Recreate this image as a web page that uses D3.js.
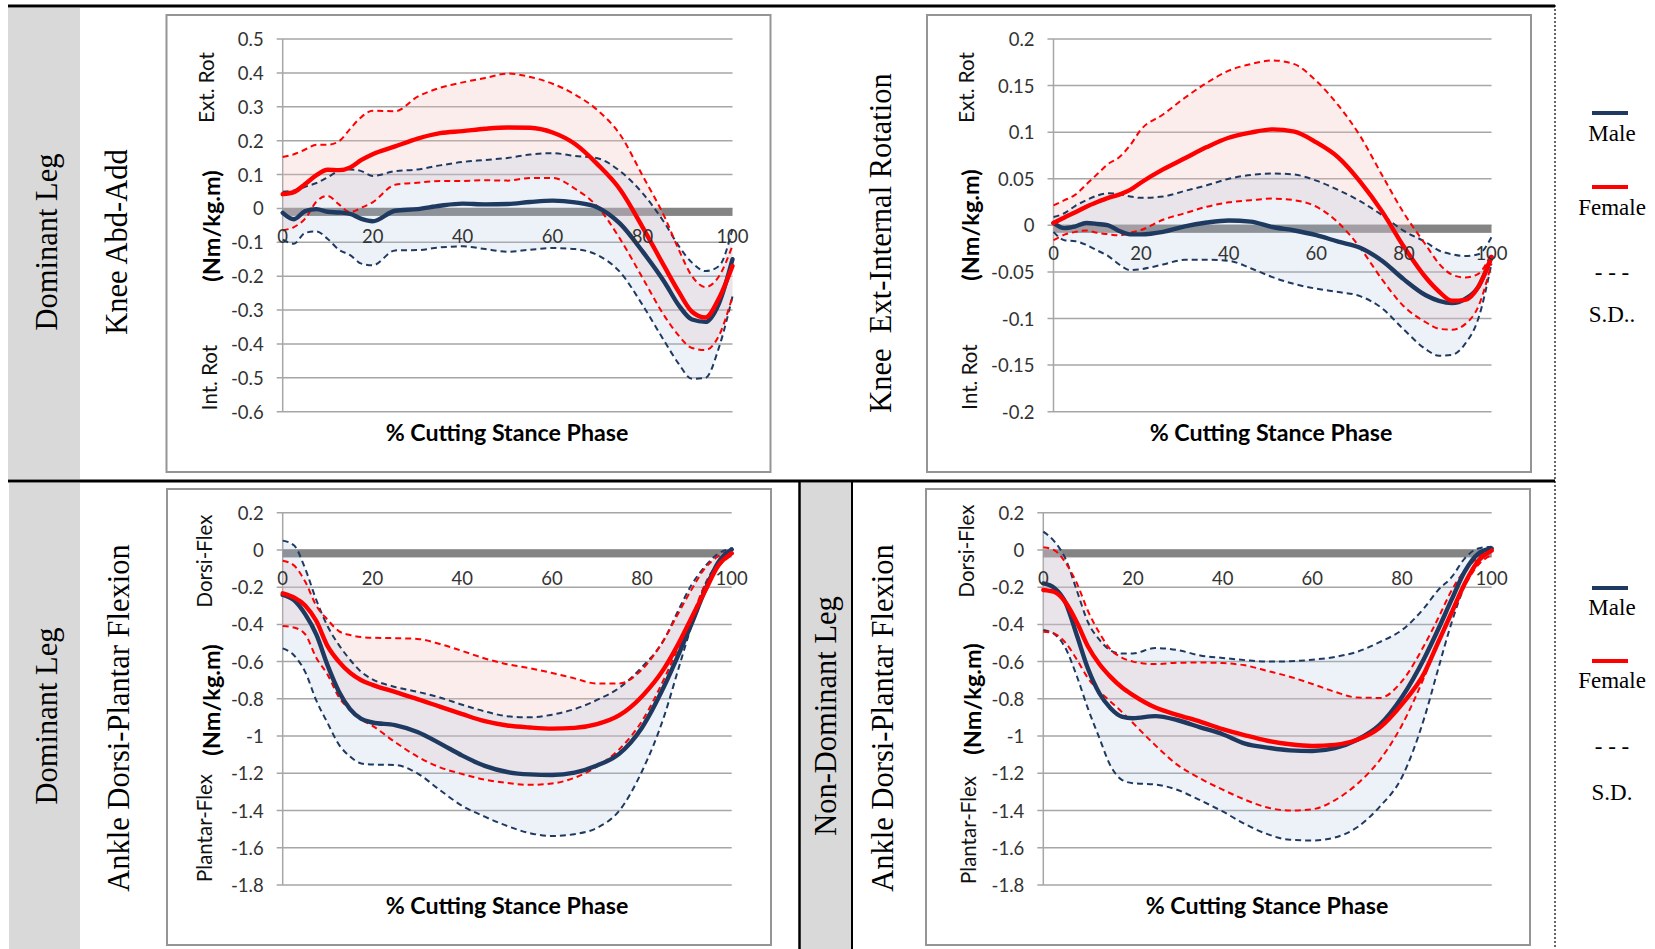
<!DOCTYPE html>
<html><head><meta charset="utf-8">
<script src="https://cdn.jsdelivr.net/npm/d3@7"></script>
<style>
html,body{margin:0;padding:0;background:#fff;}
svg{display:block;}
</style></head><body>
<svg id="c" width="1655" height="949"></svg>
<script>
// ---------- DATA ----------
const pct = [0,2.5,5,7.5,10,12.5,15,17.5,20,25,30,35,40,45,50,55,60,65,70,75,80,85,88,91,94,97,100];
const xTickLabels = ["0","20","40","60","80","100"];
const xTickValues = [0,20,40,60,80,100];

// Knee Abd-Add, dominant leg
const abdTicks = [0.5,0.4,0.3,0.2,0.1,0,-0.1,-0.2,-0.3,-0.4,-0.5,-0.6];
const abdFemale     = [0.042,0.048,0.072,0.098,0.114,0.113,0.121,0.143,0.160,0.183,0.206,0.222,0.228,0.235,0.239,0.238,0.224,0.190,0.130,0.056,-0.055,-0.175,-0.245,-0.305,-0.322,-0.265,-0.170];
const abdFemaleHi   = [0.152,0.160,0.174,0.188,0.188,0.198,0.235,0.270,0.288,0.287,0.330,0.356,0.372,0.385,0.398,0.388,0.368,0.336,0.290,0.218,0.097,-0.028,-0.120,-0.200,-0.232,-0.200,-0.110];
const abdFemaleLo   = [-0.065,-0.055,-0.030,0.020,0.037,0.012,-0.011,0.002,0.018,0.070,0.076,0.081,0.081,0.083,0.082,0.090,0.090,0.058,0.005,-0.090,-0.205,-0.320,-0.375,-0.412,-0.418,-0.375,-0.260];
const abdMale       = [-0.013,-0.032,-0.008,-0.002,-0.010,-0.012,-0.016,-0.031,-0.038,-0.007,-0.002,0.008,0.014,0.012,0.013,0.019,0.023,0.018,0.003,-0.045,-0.127,-0.220,-0.285,-0.328,-0.335,-0.280,-0.150];
const abdMaleHi     = [0.049,0.053,0.064,0.075,0.092,0.110,0.115,0.110,0.096,0.110,0.115,0.127,0.137,0.143,0.149,0.159,0.163,0.155,0.148,0.110,0.045,-0.045,-0.110,-0.160,-0.185,-0.170,-0.060];
const abdMaleLo     = [-0.092,-0.104,-0.072,-0.068,-0.090,-0.122,-0.138,-0.163,-0.168,-0.124,-0.123,-0.115,-0.112,-0.120,-0.128,-0.122,-0.117,-0.120,-0.138,-0.188,-0.285,-0.395,-0.458,-0.503,-0.500,-0.410,-0.260];

// Knee Ext-Internal Rotation, dominant leg
const rotTicks = [0.2,0.15,0.1,0.05,0,-0.05,-0.1,-0.15,-0.2];
const rotFemale     = [0.0025,0.0085,0.014,0.020,0.025,0.0295,0.033,0.038,0.046,0.060,0.072,0.084,0.094,0.0995,0.103,0.1005,0.089,0.073,0.047,0.015,-0.023,-0.056,-0.071,-0.081,-0.080,-0.066,-0.034];
const rotFemaleHi   = [0.0215,0.027,0.033,0.044,0.055,0.066,0.073,0.086,0.103,0.119,0.137,0.153,0.166,0.173,0.177,0.173,0.155,0.129,0.096,0.054,0.013,-0.021,-0.041,-0.053,-0.056,-0.052,-0.030];
const rotFemaleLo   = [-0.016,-0.010,-0.007,-0.0055,-0.008,-0.0095,-0.0108,-0.008,-0.005,0.006,0.013,0.020,0.0247,0.027,0.0287,0.027,0.020,0.003,-0.024,-0.058,-0.087,-0.104,-0.111,-0.112,-0.106,-0.087,-0.041];
const rotMale       = [0.0025,-0.003,-0.001,0.0025,0.0015,0,-0.006,-0.0097,-0.0097,-0.007,-0.001,0.003,0.0052,0.004,-0.0018,-0.0055,-0.0105,-0.0175,-0.024,-0.038,-0.058,-0.075,-0.081,-0.0835,-0.079,-0.066,-0.034];
const rotMaleHi     = [0.009,0.013,0.021,0.027,0.032,0.0345,0.0335,0.031,0.0295,0.031,0.037,0.043,0.050,0.054,0.0556,0.0545,0.048,0.038,0.026,0.011,-0.006,-0.018,-0.027,-0.031,-0.033,-0.031,-0.0125];
const rotMaleLo     = [-0.007,-0.016,-0.017,-0.021,-0.027,-0.033,-0.042,-0.048,-0.047,-0.042,-0.037,-0.037,-0.038,-0.046,-0.0556,-0.063,-0.068,-0.0715,-0.076,-0.089,-0.112,-0.133,-0.140,-0.139,-0.127,-0.100,-0.041];

// Ankle Dorsi-Plantar Flexion, dominant leg
const ankleTicks = [0.2,0,-0.2,-0.4,-0.6,-0.8,-1,-1.2,-1.4,-1.6,-1.8];
const ankDFemale    = [-0.233,-0.255,-0.298,-0.382,-0.517,-0.600,-0.660,-0.700,-0.725,-0.763,-0.801,-0.842,-0.882,-0.920,-0.943,-0.954,-0.960,-0.956,-0.936,-0.888,-0.787,-0.635,-0.510,-0.367,-0.224,-0.085,-0.018];
const ankDFemaleHi  = [-0.058,-0.083,-0.170,-0.300,-0.375,-0.436,-0.457,-0.468,-0.472,-0.474,-0.478,-0.505,-0.543,-0.583,-0.614,-0.635,-0.661,-0.690,-0.718,-0.717,-0.643,-0.478,-0.345,-0.215,-0.100,-0.034,-0.001];
const ankDFemaleLo  = [-0.409,-0.417,-0.453,-0.580,-0.670,-0.790,-0.860,-0.910,-0.945,-1.032,-1.110,-1.168,-1.204,-1.234,-1.252,-1.262,-1.255,-1.224,-1.163,-1.070,-0.920,-0.690,-0.530,-0.370,-0.190,-0.090,-0.027];
const ankDMale      = [-0.242,-0.270,-0.345,-0.455,-0.620,-0.760,-0.855,-0.908,-0.927,-0.941,-0.978,-1.039,-1.105,-1.160,-1.193,-1.206,-1.209,-1.196,-1.158,-1.094,-0.955,-0.730,-0.570,-0.400,-0.220,-0.067,0.003];
const ankDMaleHi    = [0.050,0.025,-0.100,-0.270,-0.410,-0.510,-0.590,-0.655,-0.695,-0.736,-0.762,-0.793,-0.832,-0.867,-0.893,-0.899,-0.885,-0.855,-0.806,-0.740,-0.630,-0.480,-0.330,-0.190,-0.090,-0.020,0.008];
const ankDMaleLo    = [-0.529,-0.566,-0.655,-0.810,-0.930,-1.045,-1.110,-1.147,-1.153,-1.155,-1.200,-1.290,-1.375,-1.433,-1.483,-1.521,-1.537,-1.527,-1.493,-1.400,-1.190,-0.890,-0.650,-0.410,-0.190,-0.070,-0.010];

// Ankle Dorsi-Plantar Flexion, non-dominant leg
const ankNFemale    = [-0.215,-0.226,-0.283,-0.390,-0.520,-0.613,-0.682,-0.738,-0.780,-0.847,-0.887,-0.922,-0.963,-0.996,-1.025,-1.044,-1.053,-1.047,-1.020,-0.955,-0.828,-0.660,-0.500,-0.340,-0.180,-0.060,-0.004];
const ankNFemaleHi  = [0.014,-0.002,-0.070,-0.180,-0.330,-0.445,-0.535,-0.578,-0.600,-0.613,-0.606,-0.605,-0.608,-0.620,-0.650,-0.681,-0.720,-0.762,-0.793,-0.795,-0.705,-0.510,-0.370,-0.220,-0.110,-0.040,0.008];
const ankNFemaleLo  = [-0.439,-0.450,-0.500,-0.590,-0.690,-0.760,-0.815,-0.870,-0.930,-1.050,-1.156,-1.228,-1.288,-1.342,-1.384,-1.400,-1.393,-1.345,-1.257,-1.130,-0.940,-0.680,-0.500,-0.330,-0.190,-0.080,-0.027];
const ankNMale      = [-0.180,-0.205,-0.285,-0.460,-0.640,-0.770,-0.850,-0.895,-0.904,-0.893,-0.915,-0.953,-0.990,-1.040,-1.062,-1.077,-1.080,-1.065,-1.020,-0.940,-0.790,-0.580,-0.430,-0.270,-0.115,-0.020,0.008];
const ankNMaleHi    = [0.098,0.045,-0.050,-0.220,-0.390,-0.482,-0.540,-0.557,-0.556,-0.527,-0.538,-0.567,-0.580,-0.592,-0.600,-0.598,-0.590,-0.575,-0.547,-0.495,-0.430,-0.310,-0.217,-0.148,-0.045,0.008,0.017];
const ankNMaleLo    = [-0.430,-0.452,-0.530,-0.680,-0.855,-1.010,-1.160,-1.235,-1.253,-1.260,-1.290,-1.345,-1.405,-1.473,-1.527,-1.557,-1.561,-1.545,-1.490,-1.380,-1.220,-0.900,-0.645,-0.395,-0.190,-0.050,-0.010];

// ---------- DRAWING ----------
const svg = d3.select("#c");
const NAVY = "#1f3a60", RED = "#ff0000";
const SANS = "Lato, 'Open Sans', sans-serif";
const SERIF = "'Liberation Serif', 'DejaVu Serif', serif";

// frame / gray label boxes
svg.append("rect").attr("x",8).attr("y",8).attr("width",72).attr("height",471).attr("fill","#d9d9d9");
svg.append("rect").attr("x",9).attr("y",483).attr("width",71).attr("height",466).attr("fill","#d9d9d9");
svg.append("rect").attr("x",800).attr("y",483).attr("width",52).attr("height",466).attr("fill","#d9d9d9");
svg.append("line").attr("x1",8).attr("x2",1555).attr("y1",6).attr("y2",6).attr("stroke","#000").attr("stroke-width",3);
svg.append("line").attr("x1",8).attr("x2",1555).attr("y1",481).attr("y2",481).attr("stroke","#000").attr("stroke-width",3);
svg.append("line").attr("x1",799.5).attr("x2",799.5).attr("y1",481).attr("y2",949).attr("stroke","#000").attr("stroke-width",2.5);
svg.append("line").attr("x1",852).attr("x2",852).attr("y1",481).attr("y2",949).attr("stroke","#000").attr("stroke-width",2);
svg.append("line").attr("x1",1555).attr("x2",1555).attr("y1",5).attr("y2",949).attr("stroke","#000").attr("stroke-width",1.2).attr("stroke-dasharray","2,2");

function vText(txt, cx, cy, font, size, weight, fill){
  svg.append("text").attr("transform",`translate(${cx},${cy}) rotate(-90)`)
    .attr("text-anchor","middle").attr("dominant-baseline","central")
    .style("white-space","pre")
    .attr("font-family",font).attr("font-size",size).attr("font-weight",weight||"normal")
    .attr("fill",fill||"#000").text(txt);
}
vText("Dominant Leg",47,242,SERIF,30.5);
vText("Knee Abd-Add",117,242,SERIF,30.5);
vText("Knee  Ext-Internal Rotation",881,243,SERIF,30.5);
vText("Dominant Leg",47,716,SERIF,30.5);
vText("Ankle Dorsi-Plantar Flexion",119,718,SERIF,30.5);
vText("Non-Dominant Leg",826,716,SERIF,30.5);
vText("Ankle Dorsi-Plantar Flexion",883,718,SERIF,30.5);

const fmt = v => String(+v.toFixed(2));

function panel(cfg){
  const g = svg.append("g");
  const [bx0,by0,bx1,by1] = cfg.box;
  g.append("rect").attr("x",bx0).attr("y",by0).attr("width",bx1-bx0).attr("height",by1-by0)
    .attr("fill","#fff").attr("stroke","#959595").attr("stroke-width",2);
  const x = d3.scaleLinear().domain([0,100]).range(cfg.xr);
  const y = d3.scaleLinear().domain(cfg.domain).range(cfg.yr);
  cfg.ticks.forEach(v=>{
    g.append("line").attr("x1",cfg.xr[0]-6).attr("x2",cfg.xr[1]).attr("y1",y(v)).attr("y2",y(v))
      .attr("stroke","#a6a6a6").attr("stroke-width",1.5);
    g.append("text").attr("x",cfg.xr[0]-19).attr("y",y(v)).attr("text-anchor","end")
      .attr("dominant-baseline","central").attr("font-family",SANS).attr("font-size",18.5)
      .attr("fill","#333").text(fmt(v));
  });
  g.append("line").attr("x1",cfg.xr[0]).attr("x2",cfg.xr[0]).attr("y1",cfg.yr[1]).attr("y2",cfg.yr[0])
    .attr("stroke","#a6a6a6").attr("stroke-width",1.5);
  g.append("rect").attr("x",cfg.xr[0]).attr("y",y(0)-0.5).attr("width",cfg.xr[1]-cfg.xr[0]).attr("height",8)
    .attr("fill","#848484");
  const band = (lo,hi) => d3.area().curve(d3.curveMonotoneX)
    .x((d,i)=>x(pct[i])).y0((d,i)=>y(lo[i])).y1((d,i)=>y(hi[i]))(pct);
  g.append("path").attr("d",band(cfg.fLo,cfg.fHi)).attr("fill","rgb(245,190,190)").attr("fill-opacity",0.28);
  g.append("path").attr("d",band(cfg.mLo,cfg.mHi)).attr("fill","rgb(170,195,225)").attr("fill-opacity",0.22);
  const line = arr => d3.line().curve(d3.curveMonotoneX).x((d,i)=>x(pct[i])).y((d,i)=>y(arr[i]))(pct);
  [[cfg.mHi,NAVY],[cfg.mLo,NAVY],[cfg.fHi,RED],[cfg.fLo,RED]].forEach(([a,c])=>{
    g.append("path").attr("d",line(a)).attr("fill","none").attr("stroke",c).attr("stroke-width",2)
      .attr("stroke-dasharray","6,4");
  });
  g.append("path").attr("d",line(cfg.m)).attr("fill","none").attr("stroke",NAVY).attr("stroke-width",4.4).attr("stroke-linecap","round");
  g.append("path").attr("d",line(cfg.f)).attr("fill","none").attr("stroke",RED).attr("stroke-width",4.4).attr("stroke-linecap","round");
  xTickValues.forEach((v,i)=>{
    g.append("text").attr("x",x(v)).attr("y",y(0)+28).attr("text-anchor","middle")
      .attr("dominant-baseline","central").attr("font-family",SANS).attr("font-size",18.5)
      .attr("fill","#333").text(xTickLabels[i]);
  });
  g.append("text").attr("x",cfg.title[0]).attr("y",cfg.title[1]).attr("text-anchor","middle")
    .attr("dominant-baseline","central").attr("font-family",SANS).attr("font-size",23.2)
    .attr("font-weight","bold").attr("fill","#000").text("% Cutting Stance Phase");
  const [l1,l2,l3] = cfg.ylab;
  vText(l1[0],l1[1],l1[2],SANS,20.5,"normal","#111");
  vText("(Nm/kg.m)",l2[0],l2[1],SANS,23.5,"bold","#000");
  vText(l3[0],l3[1],l3[2],SANS,20.5,"normal","#111");
}

panel({box:[166.5,15,770.5,472], xr:[282.7,732.5], yr:[411.7,39], domain:[-0.6,0.5], ticks:abdTicks,
  f:abdFemale,fHi:abdFemaleHi,fLo:abdFemaleLo,m:abdMale,mHi:abdMaleHi,mLo:abdMaleLo,
  title:[507,432], ylab:[["Ext. Rot",205.5,87.5],[211,226],["Int. Rot",209,377.5]]});
panel({box:[927,15,1531,472], xr:[1053.5,1491.5], yr:[411.7,39], domain:[-0.2,0.2], ticks:rotTicks,
  f:rotFemale,fHi:rotFemaleHi,fLo:rotFemaleLo,m:rotMale,mHi:rotMaleHi,mLo:rotMaleLo,
  title:[1271,432], ylab:[["Ext. Rot",965.6,87.5],[970,225],["Int. Rot",969,377]]});
panel({box:[167,489,771,945], xr:[282.7,731.7], yr:[885,512.7], domain:[-1.8,0.2], ticks:ankleTicks,
  f:ankDFemale,fHi:ankDFemaleHi,fLo:ankDFemaleLo,m:ankDMale,mHi:ankDMaleHi,mLo:ankDMaleLo,
  title:[507,905], ylab:[["Dorsi-Flex",204,561],[211,700],["Plantar-Flex",204,828]]});
panel({box:[926,489,1530,945], xr:[1043.3,1491.7], yr:[885,512.7], domain:[-1.8,0.2], ticks:ankleTicks,
  f:ankNFemale,fHi:ankNFemaleHi,fLo:ankNFemaleLo,m:ankNMale,mHi:ankNMaleHi,mLo:ankNMaleLo,
  title:[1267,905], ylab:[["Dorsi-Flex",966,551],[972,699],["Plantar-Flex",968,830]]});

function legend(items){
  items.forEach(it=>{
    if(it.line){
      svg.append("line").attr("x1",1592).attr("x2",1628).attr("y1",it.y).attr("y2",it.y)
        .attr("stroke",it.line).attr("stroke-width",4);
    } else {
      svg.append("text").attr("x",1612).attr("y",it.y).attr("text-anchor","middle")
        .attr("dominant-baseline","central").attr("font-family",SERIF).attr("font-size",23)
        .attr("fill","#000").text(it.text);
    }
  });
}
legend([{line:NAVY,y:113},{text:"Male",y:133},{line:RED,y:187},{text:"Female",y:207},{text:"- - -",y:272},{text:"S.D..",y:314}]);
legend([{line:NAVY,y:588},{text:"Male",y:607},{line:RED,y:661},{text:"Female",y:680},{text:"- - -",y:746},{text:"S.D.",y:792}]);
</script>
</body></html>
